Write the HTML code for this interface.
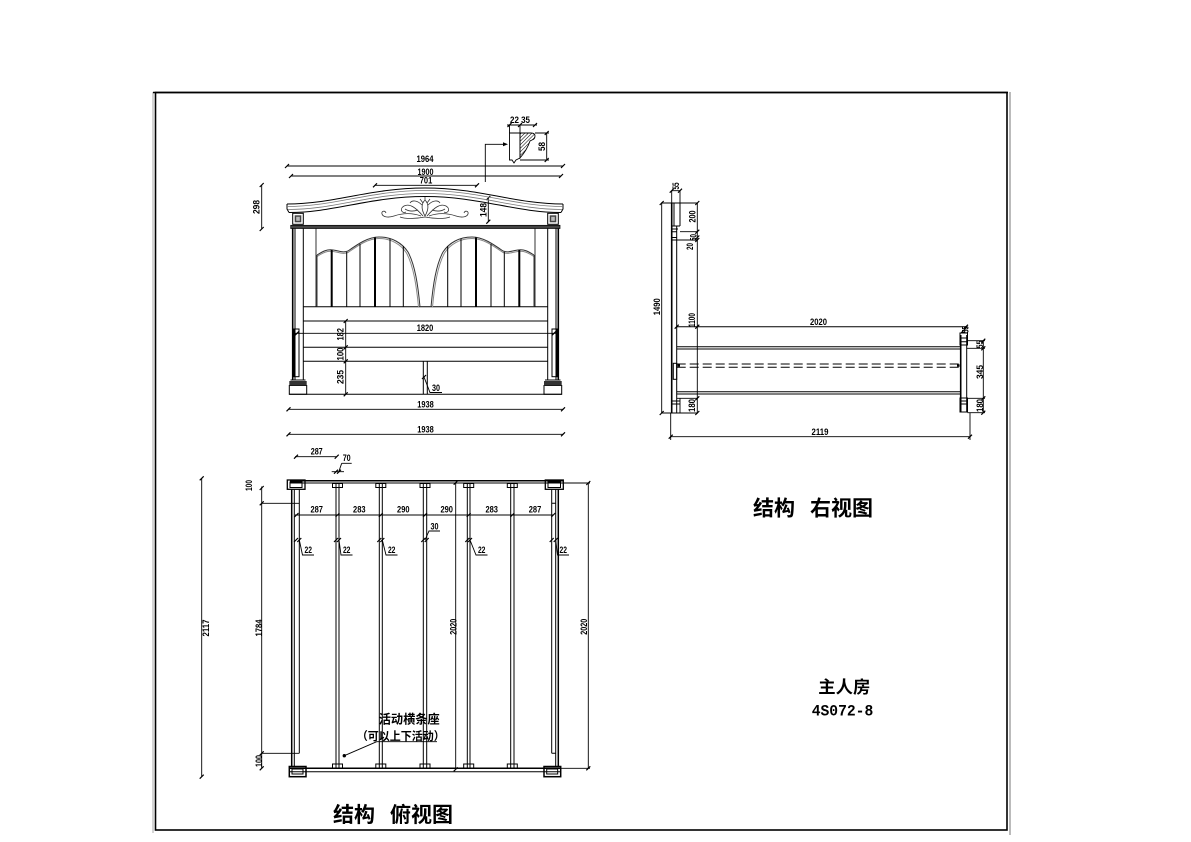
<!DOCTYPE html>
<html><head><meta charset="utf-8">
<style>
html,body{margin:0;padding:0;background:#fff;}
svg{display:block;}
.d{font-family:"Liberation Sans",sans-serif;font-weight:bold;font-size:9.5px;fill:#000;}
.c{font-family:"Liberation Sans","Noto Sans CJK SC",sans-serif;fill:#000;}
</style></head><body>
<svg width="1191" height="842" viewBox="0 0 1191 842" xmlns="http://www.w3.org/2000/svg">
<defs>
<pattern id="h" width="2.5" height="2.5" patternUnits="userSpaceOnUse" patternTransform="rotate(45)"><line x1="0" y1="0" x2="0" y2="2.5" stroke="#000" stroke-width="1"/></pattern>
</defs>
<rect width="1191" height="842" fill="#fff"/>
<!-- frame -->
<line x1="153" y1="92" x2="153" y2="833" stroke="#aaa"/>
<line x1="1010" y1="92" x2="1010" y2="835" stroke="#777"/>
<line x1="153" y1="92.5" x2="1008" y2="92.5" stroke="#000" stroke-width="1.6"/>
<rect x="155.5" y="92.5" width="851.5" height="737.5" fill="none" stroke="#000" stroke-width="1.6"/>

<!-- ================= FRONT ELEVATION ================= -->
<g stroke="#000" stroke-width="0.9" fill="none">
<path d="M287,166H563 M291,176H561 M375,185.3H477 M485.3,182V144.3H503 M261.7,185V229 M546.7,133V160 M535,133H549 M520,160H549 M507,125H537 M509.5,125V133 M520,125V133 M295,333.3H556 M345.7,321V394.3 M288,409.3H563.5 M288,434.3H563.5 M424,377L430,392.5H442 M488.3,198V221.7"/>
</g>
<path d="M508,144.3L503,142.3L503,146.3Z" fill="#000"/>
<g stroke="#000" stroke-width="1.2" fill="none">
<path d="M285,168L289,164 M561,168L565,164 M289,178L293,174 M559,178L563,174 M373,187.3L377,183.3 M475,187.3L479,183.3 M259.7,187L263.7,183 M259.7,231L263.7,227 M544.7,135L548.7,131 M544.7,162L548.7,158 M507.5,127L511.5,123 M518,127L522,123 M533,127L537,123 M295,335.3L299,331.3 M552,335.3L556,331.3 M343.7,323L347.7,319 M343.7,349.3L347.7,345.3 M343.7,363.3L347.7,359.3 M343.7,396.3L347.7,392.3 M286.5,411.3L290.5,407.3 M561,411.3L565,407.3 M286.5,436.3L290.5,432.3 M561,436.3L565,432.3 M486.3,200L490.3,196 M486.3,223.7L490.3,219.7 M422,379L426,375"/>
</g>
<!-- profile section -->
<path d="M509.5,133H520V158L516,160L514,163L512,160L509.5,160Z" fill="#fff" stroke="#000" stroke-width="0.9"/>
<path d="M520,133H531Q535,133 535,136Q535,139 532,140L530,141Q527,150 520,158Z" fill="url(#h)" stroke="#000" stroke-width="0.9"/>

<!-- crown -->
<g fill="none" stroke="#000" stroke-width="1">
<path d="M287,204 C335,204 370,188 425,188 C480,188 515,204 563,204"/>
<path d="M289,212.5 C335,212.5 370,196.5 425,196.5 C480,196.5 515,212.5 561,212.5"/>
<path d="M287,204V209L289,212.5 M563,204V209L561,212.5"/>
</g>
<g fill="none" stroke="#777" stroke-width="0.8">
<path d="M287,206.5 C335,206.5 370,190.5 425,190.5 C480,190.5 515,206.5 563,206.5"/>
<path d="M288,209.5 C335,209.5 370,193.5 425,193.5 C480,193.5 515,209.5 562,209.5"/>
</g>
<!-- ornament -->
<g fill="none" stroke="#333" stroke-width="0.8">
<path d="M425,200 C421,204 421,209 425,216 C429,209 429,204 425,200"/>
<path d="M423,216 C416,208 410,203 404,206 C399,209 402,214 406,212"/>
<path d="M427,216 C434,208 440,203 446,206 C451,209 448,214 444,212"/>
<path d="M421,216 C410,212 400,214 394,216 C388,218 383,217 382,214 C381,211 385,210 386,213"/>
<path d="M429,216 C440,212 450,214 456,216 C462,218 467,217 468,214 C469,211 465,210 464,213"/>
<path d="M422,205 C417,200 412,200 410,203 M428,205 C433,200 438,200 440,203"/>
<path d="M400,217 C405,219 415,219 425,217 C435,219 445,219 450,217"/>
<path d="M418,210 C412,212 408,211 405,209 M432,210 C438,212 442,211 445,209"/>
<path d="M423,203 L420,199 M427,203 L430,199 M425,200 V197"/>
</g>
<!-- blocks and band -->
<rect x="292.7" y="213.3" width="10.6" height="11" fill="#fff" stroke="#000"/>
<rect x="294.7" y="215.3" width="6.6" height="7" fill="#444"/>
<rect x="296.2" y="216.8" width="3.6" height="4" fill="#bbb"/>
<rect x="547.7" y="213.3" width="10.6" height="11" fill="#fff" stroke="#000"/>
<rect x="549.7" y="215.3" width="6.6" height="7" fill="#444"/>
<rect x="551.2" y="216.8" width="3.6" height="4" fill="#bbb"/>
<rect x="290.7" y="225.3" width="269.3" height="3.2" fill="#444" stroke="#000" stroke-width="0.7"/>

<!-- posts & panel -->
<g fill="none" stroke="#000" stroke-width="1">
<path d="M292.7,228.5V380 M558.3,228.5V380" stroke-width="1.6"/>
<path d="M295,228.5V380 M303.3,228.5V380 M556,228.5V380 M547.7,228.5V380"/>
<path d="M316,228.5V306.7 M535,228.5V306.7" stroke-width="0.8"/>
<path d="M303.3,306.7H547.7 M303.3,321H547.7 M303.3,347.3H547.7 M303.3,361.3H547.7 M289.3,394.3H561.7"/>
<rect x="294" y="329" width="5" height="47.7"/>
<rect x="552" y="329" width="5" height="47.7"/>
<path d="M290.5,380H305.5 M545,380H560.5"/>
<rect x="289.3" y="385.5" width="17.4" height="8.8"/>
<rect x="544" y="385.5" width="17.7" height="8.8"/>
<path d="M423.3,361.3V394.3 M427.3,361.3V394.3"/>
</g>
<rect x="289.3" y="381" width="17.4" height="4.5" fill="#333"/>
<rect x="544" y="381" width="17.7" height="4.5" fill="#333"/>
<!-- arches -->
<g fill="none" stroke="#333" stroke-width="1">
<path d="M317,255 C322,252 326,249 333,250 C340,251 343,253 348,251 C358,244 368,237 379,237 C392,237 402,243 408,252 C415,265 418,285 420,307"/>
<path d="M317,256.5 C322,253.5 326,250.5 333,251.5 C340,252.5 343,254.5 348,252.5 C358,245.5 368,238.5 379,238.5 C391,238.5 401,244.5 406.5,253 C413.5,266 416.5,286 418.5,307" stroke="#888"/>
<path d="M534,255 C529,252 525,249 518,250 C511,251 508,253 503,251 C493,244 483,237 472,237 C459,237 449,243 443,252 C436,265 433,285 431,307"/>
<path d="M534,256.5 C529,253.5 525,250.5 518,251.5 C511,252.5 508,254.5 503,252.5 C493,245.5 483,238.5 472,238.5 C460,238.5 450,244.5 444.5,253 C437.5,266 434.5,286 432.5,307" stroke="#888"/>
<path d="M317,255V306.7 M534,255V306.7"/>
</g>
<g stroke="#000" fill="none">
<path d="M331.7,250V306.7 M375,237.5V306.7 M519.3,250V306.7 M476,237.5V306.7" stroke-width="2"/>
<path d="M346.7,252V306.7 M360,244V306.7 M390,238.5V306.7 M403.3,246V306.7 M504.3,252V306.7 M491,244V306.7 M461,238.5V306.7 M447.7,246V306.7" stroke-width="1"/>
</g>
<!-- front texts -->
<text class="d" x="425" y="161.8" text-anchor="middle" textLength="17" lengthAdjust="spacingAndGlyphs">1964</text>
<text class="d" x="425.5" y="175" text-anchor="middle" textLength="16" lengthAdjust="spacingAndGlyphs">1900</text>
<text class="d" x="426" y="183.3" text-anchor="middle" textLength="12.5" lengthAdjust="spacingAndGlyphs">701</text>
<text class="d" x="520" y="123" text-anchor="middle" textLength="20" lengthAdjust="spacingAndGlyphs">22 35</text>
<text class="d" x="256" y="210.5" text-anchor="middle" textLength="14" lengthAdjust="spacingAndGlyphs" transform="rotate(-90 256 207)">298</text>
<text class="d" x="541.5" y="150" text-anchor="middle" textLength="9" lengthAdjust="spacingAndGlyphs" transform="rotate(-90 541.5 146.5)">58</text>
<text class="d" x="483" y="213.5" text-anchor="middle" textLength="14" lengthAdjust="spacingAndGlyphs" transform="rotate(-90 483 210)">148</text>
<text class="d" x="425" y="331" text-anchor="middle" textLength="16.6" lengthAdjust="spacingAndGlyphs">1820</text>
<text class="d" x="340" y="337.8" text-anchor="middle" textLength="12.5" lengthAdjust="spacingAndGlyphs" transform="rotate(-90 340 334.3)">182</text>
<text class="d" x="340" y="357.5" text-anchor="middle" textLength="13" lengthAdjust="spacingAndGlyphs" transform="rotate(-90 340 354)">100</text>
<text class="d" x="340" y="380.5" text-anchor="middle" textLength="14" lengthAdjust="spacingAndGlyphs" transform="rotate(-90 340 377)">235</text>
<text class="d" x="436" y="391" text-anchor="middle" textLength="8" lengthAdjust="spacingAndGlyphs">30</text>
<text class="d" x="425.5" y="407.6" text-anchor="middle" textLength="16.5" lengthAdjust="spacingAndGlyphs">1938</text>
<text class="d" x="425.5" y="432.6" text-anchor="middle" textLength="16.5" lengthAdjust="spacingAndGlyphs">1938</text>

<!-- ================= SIDE VIEW ================= -->
<g fill="none" stroke="#000" stroke-width="1">
<path d="M671.7,203V413 M960.7,335V412" stroke-width="1.6"/>
<path d="M680,203V226 M671.7,203H680 M676.7,226V413 M674,203V226 M671.7,226H680 M671.7,229H678 M671.7,231.7H677 M671.7,237.5H676.7 M671.7,240H676.7"/>
<path d="M661,203H698 M680,231.7H698 M676.7,240H698 M661,413H698 M677,398.3H698 M671.7,401H680 M671.7,404H680 M680,398.3V413" stroke-width="0.9"/>
<path d="M661.7,203V413 M697.3,203V413 M671.7,190.7H680 M671.7,190.7V203 M680,190.7V203" stroke-width="0.9"/>
<path d="M676.7,326.7H966 M676.7,346.7H960.7 M676.7,349H960.7 M676.7,391.7H960.7 M676.7,394H960.7"/>
<path d="M676.7,364H960.7 M676.7,367.3H960.7" stroke-dasharray="9 4"/>
<rect x="673.3" y="363.3" width="3.4" height="16"/>
<path d="M966.7,335V412"/>
<rect x="960" y="333" width="7.5" height="12"/>
<path d="M960,338H967.5 M960,341.7H967.5 M960,401H967.5 M960,404H967.5"/>
<rect x="960" y="398" width="7.5" height="14"/>
<path d="M983.3,340.7V413 M967.5,340.7H985 M966.7,348.3H985 M966.7,398.3H985 M967.5,412.7H985" stroke-width="0.9"/>
<path d="M670.7,413V440 M970,413V440 M670.7,436.7H970" stroke-width="0.9"/>
</g>
<rect x="677.5" y="364.3" width="2.5" height="2.5" fill="#000"/>
<rect x="957" y="364.3" width="2.5" height="2.5" fill="#000"/>
<g stroke="#000" stroke-width="1.2" fill="none">
<path d="M659.7,205L663.7,201 M659.7,415L663.7,411 M695.3,205L699.3,201 M695.3,233.7L699.3,229.7 M695.3,239.5L699.3,235.5 M695.3,242L699.3,238 M695.3,328.7L699.3,324.7 M695.3,400.3L699.3,396.3 M695.3,415L699.3,411 M674.7,328.7L678.7,324.7 M964,328.7L968,324.7 M669.7,192.7L673.7,188.7 M678,192.7L682,188.7 M981.3,342.7L985.3,338.7 M981.3,350.3L985.3,346.3 M981.3,400.3L985.3,396.3 M981.3,414.7L985.3,410.7 M668.7,438.7L672.7,434.7 M968,438.7L972,434.7 M961,333L967,327"/>
</g>
<text class="d" x="675.5" y="189.5" text-anchor="middle" textLength="7" lengthAdjust="spacingAndGlyphs" transform="rotate(-90 675.5 186)">55</text>
<text class="d" x="692" y="220" text-anchor="middle" textLength="12" lengthAdjust="spacingAndGlyphs" transform="rotate(-90 692 216.5)">200</text>
<text class="d" x="693" y="241" text-anchor="middle" textLength="7" lengthAdjust="spacingAndGlyphs" transform="rotate(-90 693 237.5)">50</text>
<text class="d" x="689.5" y="250" text-anchor="middle" textLength="7" lengthAdjust="spacingAndGlyphs" transform="rotate(-90 689.5 246.5)">20</text>
<text class="d" x="656.5" y="310.2" text-anchor="middle" textLength="17" lengthAdjust="spacingAndGlyphs" transform="rotate(-90 656.5 306.7)">1490</text>
<text class="d" x="691.7" y="323.5" text-anchor="middle" textLength="14" lengthAdjust="spacingAndGlyphs" transform="rotate(-90 691.7 320)">1100</text>
<text class="d" x="691.7" y="409" text-anchor="middle" textLength="13" lengthAdjust="spacingAndGlyphs" transform="rotate(-90 691.7 405.5)">180</text>
<text class="d" x="818.5" y="325" text-anchor="middle" textLength="17" lengthAdjust="spacingAndGlyphs">2020</text>
<text class="d" x="965" y="333" text-anchor="middle" textLength="7" lengthAdjust="spacingAndGlyphs" transform="rotate(-90 965 329.5)">55</text>
<text class="d" x="979.5" y="348" text-anchor="middle" textLength="8" lengthAdjust="spacingAndGlyphs" transform="rotate(-90 979.5 344.5)">55</text>
<text class="d" x="979.5" y="375.5" text-anchor="middle" textLength="14" lengthAdjust="spacingAndGlyphs" transform="rotate(-90 979.5 372)">345</text>
<text class="d" x="979.5" y="409" text-anchor="middle" textLength="13" lengthAdjust="spacingAndGlyphs" transform="rotate(-90 979.5 405.5)">180</text>
<text class="d" x="820" y="435" text-anchor="middle" textLength="17" lengthAdjust="spacingAndGlyphs">2119</text>

<!-- ================= TOP VIEW ================= -->
<g fill="none" stroke="#000" stroke-width="1">
<path d="M290,480.7H563 M289,768.3H561" stroke-width="1.5"/>
<path d="M290,483H563 M289,771.7H561"/>
<rect x="287.3" y="480" width="17.7" height="9.3" stroke-width="1.3"/>
<rect x="290" y="482" width="12" height="5.5"/>
<rect x="545.3" y="480" width="18" height="9.3" stroke-width="1.3"/>
<rect x="548" y="482" width="12.5" height="5.5"/>
<rect x="289.3" y="766.5" width="16.7" height="10.2" stroke-width="1.5"/>
<rect x="292" y="769" width="11" height="5"/>
<rect x="544" y="766.5" width="16.7" height="10.2" stroke-width="1.5"/>
<rect x="546.7" y="769" width="11" height="5"/>
<path d="M291.7,489.3V766.5 M558.3,489.3V766.5" stroke-width="1.5"/>
<path d="M294.3,489.3V766.5 M555.7,489.3V766.5 M299.3,489.3V753.3 M551.7,489.3V753.3 M551.7,753.3H555.7 M551.7,503.3H555.7"/>
<path d="M299.3,753.3H261.7 M299.3,503.3H261.7" stroke-width="0.9"/>
<path d="M336,483V768.3 M339,483V768.3 M379.3,483V768.3 M382.3,483V768.3 M423.3,483V768.3 M426.7,483V768.3 M467.3,483V768.3 M470,483V768.3 M510.7,483V768.3 M514,483V768.3"/>
<rect x="332.5" y="483.5" width="10" height="4"/><rect x="375.8" y="483.5" width="10" height="4"/><rect x="420" y="483.5" width="10" height="4"/><rect x="463.7" y="483.5" width="10" height="4"/><rect x="507.3" y="483.5" width="10" height="4"/>
<rect x="332.5" y="764" width="10" height="4"/><rect x="375.8" y="764" width="10" height="4"/><rect x="420" y="764" width="10" height="4"/><rect x="463.7" y="764" width="10" height="4"/><rect x="507.3" y="764" width="10" height="4"/>
<path d="M455.7,482.7V769.3 M563,483H590 M561,768.3H590 M588.3,483V768.3 M201.7,478.3V776.7 M261.7,486.5V768.3 M295,515H553.3 M295,456.7H336.7 M331.7,471.7H344 M341.7,463.3H351.7 M341.7,463.3L339,471 M425,540L429,531H440" stroke-width="0.9"/>
<path d="M299.3,540L302.5,555H314 M339,540L341,555H352.5 M382.3,540L386,555H397.5 M470,540L476,555H487.5 M555.7,540L557.5,555H569" stroke-width="0.9"/>
</g>
<g stroke="#000" stroke-width="1.2" fill="none">
<path d="M453.7,484.7L457.7,480.7 M453.7,771.3L457.7,767.3 M586.3,485L590.3,481 M586.3,770.3L590.3,766.3 M199.7,480.3L203.7,476.3 M199.7,778.7L203.7,774.7 M259.7,490L263.7,486 M259.7,505.3L263.7,501.3 M259.7,755.3L263.7,751.3 M259.7,770.3L263.7,766.3 M294.5,517L298.5,513 M335.5,517L339.5,513 M378.8,517L382.8,513 M423,517L427,513 M466.7,517L470.7,513 M510.3,517L514.3,513 M551.3,517L555.3,513 M294,458.7L298,454.7 M334.7,458.7L338.7,454.7 M334,473.7L338,469.7 M337,473.7L341,469.7 M294,542L298,538 M297.3,542L301.3,538 M334,542L338,538 M337,542L341,538 M377.3,542L381.3,538 M380.3,542L384.3,538 M421.3,542L425.3,538 M424.7,542L428.7,538 M465.3,542L469.3,538 M468,542L472,538 M549.7,542L553.7,538 M553.7,542L557.7,538"/>
</g>
<text class="d" x="316.7" y="454.5" text-anchor="middle" textLength="12" lengthAdjust="spacingAndGlyphs">287</text>
<text class="d" x="346.7" y="461" text-anchor="middle" textLength="8" lengthAdjust="spacingAndGlyphs">70</text>
<text class="d" x="248.5" y="489" text-anchor="middle" textLength="11" lengthAdjust="spacingAndGlyphs" transform="rotate(-90 248.5 485.5)">100</text>
<text class="d" x="316.7" y="512.5" text-anchor="middle" textLength="12.5" lengthAdjust="spacingAndGlyphs">287</text>
<text class="d" x="359.3" y="512.5" text-anchor="middle" textLength="12.5" lengthAdjust="spacingAndGlyphs">283</text>
<text class="d" x="403.3" y="512.5" text-anchor="middle" textLength="12.5" lengthAdjust="spacingAndGlyphs">290</text>
<text class="d" x="446.7" y="512.5" text-anchor="middle" textLength="12.5" lengthAdjust="spacingAndGlyphs">290</text>
<text class="d" x="491.7" y="512.5" text-anchor="middle" textLength="12.5" lengthAdjust="spacingAndGlyphs">283</text>
<text class="d" x="535" y="512.5" text-anchor="middle" textLength="12.5" lengthAdjust="spacingAndGlyphs">287</text>
<text class="d" x="434.5" y="529.3" text-anchor="middle" textLength="8" lengthAdjust="spacingAndGlyphs">30</text>
<text class="d" x="308.3" y="553" text-anchor="middle" textLength="7.5" lengthAdjust="spacingAndGlyphs">22</text>
<text class="d" x="346.7" y="553" text-anchor="middle" textLength="7.5" lengthAdjust="spacingAndGlyphs">22</text>
<text class="d" x="391.7" y="553" text-anchor="middle" textLength="7.5" lengthAdjust="spacingAndGlyphs">22</text>
<text class="d" x="481.7" y="553" text-anchor="middle" textLength="7.5" lengthAdjust="spacingAndGlyphs">22</text>
<text class="d" x="563.3" y="553" text-anchor="middle" textLength="7.5" lengthAdjust="spacingAndGlyphs">22</text>
<text class="d" x="205.5" y="631.5" text-anchor="middle" textLength="17" lengthAdjust="spacingAndGlyphs" transform="rotate(-90 205.5 628)">2117</text>
<text class="d" x="258.3" y="631.5" text-anchor="middle" textLength="17" lengthAdjust="spacingAndGlyphs" transform="rotate(-90 258.3 628)">1784</text>
<text class="d" x="258.3" y="764.5" text-anchor="middle" textLength="12" lengthAdjust="spacingAndGlyphs" transform="rotate(-90 258.3 761)">100</text>
<text class="d" x="452.8" y="630.2" text-anchor="middle" textLength="16" lengthAdjust="spacingAndGlyphs" transform="rotate(-90 452.8 626.7)">2020</text>
<text class="d" x="583.5" y="630.2" text-anchor="middle" textLength="16" lengthAdjust="spacingAndGlyphs" transform="rotate(-90 583.5 626.7)">2020</text>

<!-- note -->
<text class="c" x="409.2" y="723.5" font-size="12.5" font-weight="bold" text-anchor="middle" textLength="61" lengthAdjust="spacingAndGlyphs">活动横条座</text>
<text class="c" x="400.8" y="740" font-size="11.5" font-weight="bold" text-anchor="middle" textLength="88" lengthAdjust="spacingAndGlyphs">（可以上下活动）</text>
<path d="M376.7,741.7H437 M376.7,741.7L344.3,755.7" stroke="#000" stroke-width="0.9" fill="none"/>
<circle cx="344.3" cy="755.7" r="1.7" fill="#000"/>

<!-- titles -->
<text class="c" x="753" y="515.5" font-size="21" font-weight="bold">结构</text>
<text class="c" x="810" y="515.5" font-size="21" font-weight="bold">右视图</text>
<text class="c" x="333" y="822" font-size="21" font-weight="bold">结构</text>
<text class="c" x="390" y="822" font-size="21" font-weight="bold">俯视图</text>
<text class="c" x="818.3" y="693" font-size="17.3" font-weight="bold" textLength="52" lengthAdjust="spacingAndGlyphs">主人房</text>
<text x="811.7" y="715.5" font-family="'Liberation Mono',monospace" font-weight="bold" font-size="16" textLength="61.6" lengthAdjust="spacingAndGlyphs" fill="#000">4S072-8</text>
</svg>
</body></html>
